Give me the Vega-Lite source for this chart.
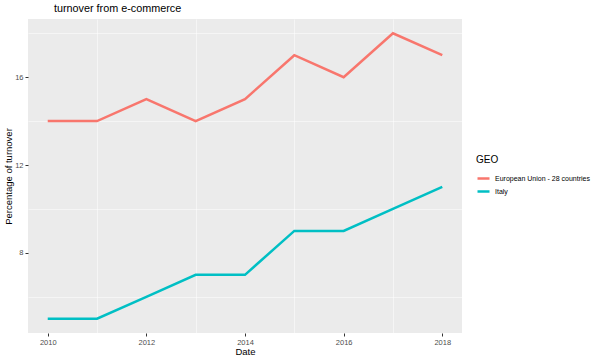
{
  "$schema": "https://vega.github.io/schema/vega-lite/v6.json",
  "width": 434,
  "height": 314,
  "autosize": {"type": "none"},
  "padding": {"left": 28, "top": 19, "right": 138, "bottom": 27},
  "background": "white",
  "title": {"text": "turnover from e-commerce", "anchor": "start", "frame": "group", "font": "Liberation Sans", "fontSize": 10.8, "fontWeight": "normal", "color": "black", "offset": 5, "dx": 26},
  "data": {"values": [
    {"Date": 2010, "GEO": "European Union - 28 countries", "value": 14},
    {"Date": 2011, "GEO": "European Union - 28 countries", "value": 14},
    {"Date": 2012, "GEO": "European Union - 28 countries", "value": 15},
    {"Date": 2013, "GEO": "European Union - 28 countries", "value": 14},
    {"Date": 2014, "GEO": "European Union - 28 countries", "value": 15},
    {"Date": 2015, "GEO": "European Union - 28 countries", "value": 17},
    {"Date": 2016, "GEO": "European Union - 28 countries", "value": 16},
    {"Date": 2017, "GEO": "European Union - 28 countries", "value": 18},
    {"Date": 2018, "GEO": "European Union - 28 countries", "value": 17},
    {"Date": 2010, "GEO": "Italy", "value": 5},
    {"Date": 2011, "GEO": "Italy", "value": 5},
    {"Date": 2012, "GEO": "Italy", "value": 6},
    {"Date": 2013, "GEO": "Italy", "value": 7},
    {"Date": 2014, "GEO": "Italy", "value": 7},
    {"Date": 2015, "GEO": "Italy", "value": 9},
    {"Date": 2016, "GEO": "Italy", "value": 9},
    {"Date": 2017, "GEO": "Italy", "value": 10},
    {"Date": 2018, "GEO": "Italy", "value": 11}
  ]},
  "config": {
    "view": {"fill": "#EBEBEB", "stroke": null},
    "font": "Liberation Sans",
    "axis": {
      "labelFont": "Liberation Sans", "labelFontSize": 7.5, "labelColor": "#4D4D4D",
      "titleFont": "Liberation Sans", "titleFontSize": 9.5, "titleFontWeight": "normal", "titleColor": "black",
      "tickColor": "#333333", "tickSize": 3, "domain": false,
      "gridColor": "white", "gridWidth": 1.1
    }
  },
  "layer": [
    {
      "mark": {"type": "line", "opacity": 0},
      "encoding": {
        "x": {"field": "Date", "type": "quantitative", "scale": {"domain": [2009.6, 2018.4], "nice": false, "zero": false},
              "axis": {"values": [2011, 2013, 2015, 2017], "labels": false, "ticks": false, "title": null, "gridWidth": 0.5, "orient": "bottom"}},
        "y": {"field": "value", "type": "quantitative", "scale": {"domain": [4.35, 18.65], "nice": false, "zero": false},
              "axis": {"values": [6, 10, 14, 18], "labels": false, "ticks": false, "title": null, "gridWidth": 0.5, "orient": "left"}}
      }
    },
    {
      "mark": {"type": "line", "strokeWidth": 2.5},
      "encoding": {
        "x": {"field": "Date", "type": "quantitative", "scale": {"domain": [2009.6, 2018.4], "nice": false, "zero": false},
              "axis": {"values": [2010, 2012, 2014, 2016, 2018], "format": "d", "title": "Date", "labelPadding": 2, "titlePadding": 1, "orient": "bottom"}},
        "y": {"field": "value", "type": "quantitative", "scale": {"domain": [4.35, 18.65], "nice": false, "zero": false},
              "axis": {"values": [8, 12, 16], "title": "Percentage of turnover", "labelPadding": 2, "titlePadding": 1, "orient": "left"}},
        "color": {"field": "GEO", "type": "nominal",
                  "scale": {"domain": ["European Union - 28 countries", "Italy"], "range": ["#F8766D", "#00BFC4"]},
                  "legend": {"orient": "none", "legendX": 448, "legendY": 136, "title": "GEO", "titleFontSize": 10, "titleFontWeight": "normal", "titleColor": "black", "titleFont": "Liberation Sans", "labelFont": "Liberation Sans", "labelFontSize": 7, "labelColor": "black", "labelOffset": 4, "symbolType": "stroke", "symbolStrokeWidth": 2.5, "symbolSize": 144, "rowPadding": 0, "titlePadding": 6}}
      }
    }
  ],
  "resolve": {"axis": {"x": "independent", "y": "independent"}}
}
